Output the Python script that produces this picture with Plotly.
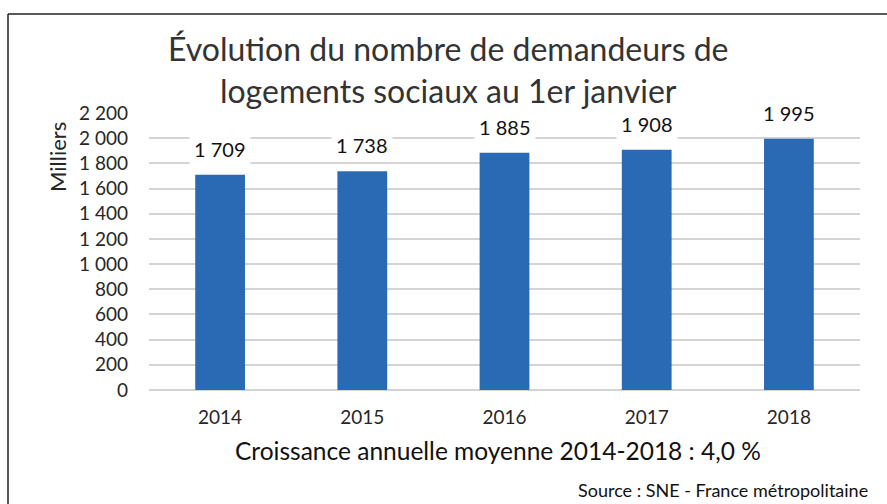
import plotly.graph_objects as go

years = ["2014", "2015", "2016", "2017", "2018"]
values = [1709, 1738, 1885, 1908, 1995]
y_ticks = list(range(0, 2201, 200))

FONT = "Lato, 'Open Sans', sans-serif"
BLUE = "#2a6ab5"
TXT = "#262626"

def fmt(v):
    return f"{v:,}".replace(",", " ")

W, H = 887, 504
ML, MR, MT, MB = 149, 27, 113, 114
pw, ph = W - ML - MR, H - MT - MB
def px(x):
    return (x - ML) / pw
def py(y):
    return (H - MB - y) / ph

xpos = list(range(len(years)))

fig = go.Figure()
fig.add_trace(go.Bar(x=xpos, y=values, marker=dict(color=BLUE, line=dict(width=0)),
                     width=0.35, hovertext=years, hoverinfo="text+y"))

for xp, v in zip(xpos, values):
    fig.add_annotation(x=xp, y=v, xref="x", yref="y", text=fmt(v), showarrow=False,
                       yshift=26, xanchor="center", yanchor="middle", bgcolor="white", borderpad=4,
                       font=dict(family=FONT, size=20, color="#111"))

fig.update_layout(
    width=W, height=H,
    margin=dict(l=ML, r=MR, t=MT, b=MB),
    paper_bgcolor="white", plot_bgcolor="white",
    separators=", ",
    showlegend=False,
    font=dict(family=FONT, color=TXT),
    xaxis=dict(type="linear", range=[-0.5, len(years) - 0.5], tickvals=xpos, ticktext=years,
               showgrid=False, showline=False, zeroline=False, ticks="",
               tickfont=dict(size=19, color=TXT), ticklabelstandoff=14, fixedrange=True),
    yaxis=dict(range=[0, 2200], tickvals=y_ticks, tickformat=",d", showgrid=True,
               gridcolor="#d4d4d4", gridwidth=1.5, zeroline=True, zerolinecolor="#d4d4d4",
               zerolinewidth=1.5, showline=False, ticks="", tickfont=dict(size=19, color=TXT),
               ticklabelstandoff=20, fixedrange=True),
)

fig.add_annotation(text="Évolution du nombre de demandeurs de<br>logements sociaux au 1er janvier",
                   x=px(448), y=py(69), xref="paper", yref="paper", showarrow=False,
                   xanchor="center", yanchor="middle",
                   font=dict(family=FONT, size=32, color="#333"), align="center")
fig.add_annotation(text="Milliers", textangle=-90, x=px(57), y=py(157), xref="paper", yref="paper",
                   xanchor="center", yanchor="middle",
                   showarrow=False, font=dict(family=FONT, size=22, color=TXT))
fig.add_annotation(text="Croissance annuelle moyenne 2014-2018 : 4,0 %", x=px(498), y=py(450),
                   xref="paper", yref="paper", showarrow=False, xanchor="center", yanchor="middle",
                   font=dict(family=FONT, size=24.5, color="#111"))
fig.add_annotation(text="Source : SNE - France métropolitaine", x=px(870), y=py(490),
                   xref="paper", yref="paper", showarrow=False, xanchor="right", yanchor="middle",
                   font=dict(family=FONT, size=18, color="#111"))

# frame (top and left edges)
fig.add_shape(type="line", xref="paper", yref="paper", x0=px(8), x1=px(887), y0=py(14), y1=py(14),
              line=dict(color="#222", width=1.5))
fig.add_shape(type="line", xref="paper", yref="paper", x0=px(8), x1=px(8), y0=py(14), y1=py(504),
              line=dict(color="#222", width=1.5))

fig.write_html("out.html", config={"displayModeBar": False},
               post_script="document.body.style.margin='0';")
